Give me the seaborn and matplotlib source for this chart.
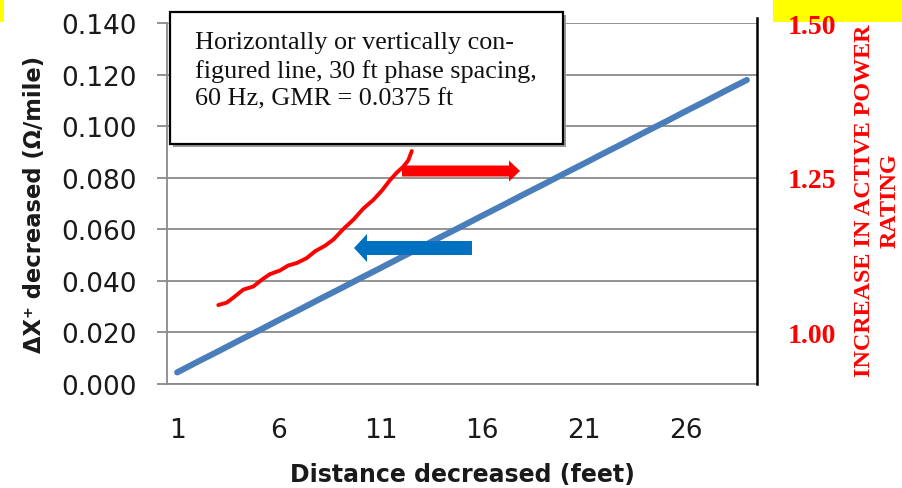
import matplotlib
matplotlib.use("Agg")
import matplotlib.pyplot as plt
from matplotlib.patches import FancyArrow, Rectangle
from matplotlib.transforms import Affine2D
import seaborn as sns

# blue series: delta X+ (ohm/mile) per foot of distance decreased
distance_ft = list(range(1, 30))
delta_x = [0.0045, 0.0086, 0.0126, 0.0167, 0.0207, 0.0248, 0.0288, 0.0329,
           0.0369, 0.0410, 0.0450, 0.0491, 0.0531, 0.0572, 0.0612, 0.0653,
           0.0693, 0.0734, 0.0774, 0.0815, 0.0855, 0.0896, 0.0936, 0.0977,
           0.1017, 0.1058, 0.1098, 0.1139, 0.1179]

# red series: increase in active power rating (right axis)
rating_x = [3.02, 3.44, 3.76, 4.25, 4.74, 5.16, 5.56, 6.06, 6.46, 6.88, 7.37, 7.78,
            8.27, 8.68, 9.17, 9.66, 10.15, 10.64, 11.06, 11.46, 11.79, 12.12, 12.36, 12.53]
rating_y = [1.044, 1.048, 1.056, 1.069, 1.074, 1.085, 1.094, 1.100, 1.108, 1.112,
            1.120, 1.131, 1.140, 1.150, 1.167, 1.182, 1.200, 1.214, 1.229, 1.246,
            1.258, 1.268, 1.278, 1.293]

y_ticks = [0.000, 0.020, 0.040, 0.060, 0.080, 0.100, 0.120, 0.140]
x_ticks = [1, 6, 11, 16, 21, 26]
right_ticks = [1.00, 1.25, 1.50]

note = ("Horizontally or vertically con-\n"
        "figured line, 30 ft phase spacing,\n"
        "60 Hz, GMR = 0.0375 ft")

sns.set_theme(style="white")
plt.rcParams["font.family"] = ["DejaVu Sans"]

W, H = 902, 489
fig = plt.figure(figsize=(W / 100, H / 100), dpi=100)
# pixel coords with origin top-left
px = Affine2D().scale(1 / W, -1 / H).translate(0, 1) + fig.transFigure

ax = fig.add_axes([167 / W, 1 - 385 / H, 590 / W, 361 / H])
grid_c = "#8a8a8a"

sns.lineplot(x=distance_ft, y=delta_x, ax=ax, color="#4A7EBB", linewidth=4.4,
             solid_capstyle="round", zorder=3)
ax.set_xlim(0.5, 29.5)
ax.set_ylim(0, 0.140)
ax.set_yticks(y_ticks, labels=[f"{v:.3f}" for v in y_ticks])
ax.set_xticks(x_ticks, labels=[str(v) for v in x_ticks])
ax.yaxis.grid(True, color=grid_c, linewidth=1.3)
ax.set_axisbelow(True)
for s in ["top", "right"]:
    ax.spines[s].set_visible(False)
for s in ["left", "bottom"]:
    ax.spines[s].set_color(grid_c)
    ax.spines[s].set_linewidth(1.3)
ax.tick_params(axis="y", left=True, length=7, width=1.3, color=grid_c, pad=15,
               labelsize=19, labelcolor="#1a1a1a")
ax.tick_params(axis="x", bottom=False, length=0, pad=24, labelsize=19, labelcolor="#1a1a1a")
ax.set_xlabel("Distance decreased (feet)", fontsize=17, fontweight="bold", color="#1a1a1a")
ax.xaxis.set_label_coords(0.5, -0.215)
ax.set_ylabel("ΔX⁺ decreased (Ω/mile)", fontsize=16.3, fontweight="bold", color="#1a1a1a")
ax.yaxis.set_label_coords(-0.205, 0.5)

# secondary axis
ax2 = ax.twinx()
sns.lineplot(x=rating_x, y=rating_y, ax=ax2, color="red", linewidth=2.8, sort=False)
ax2.set_ylim(0.9164, 1.4968)
ax2.set_yticks(right_ticks, labels=[f"{v:.2f}" for v in right_ticks],
               fontfamily="Liberation Serif", fontweight="bold", color="red", fontsize=20)
ax2.tick_params(axis="y", right=True, length=0, pad=22)
ax2.set_ylabel("")
ax2.grid(False)
for s in ["top", "left", "bottom"]:
    ax2.spines[s].set_visible(False)
ax2.spines["right"].set_color("black")
ax2.spines["right"].set_linewidth(1.8)
ax2.spines["right"].set_bounds(0.9164, 1.508)

fig.text(877 / W, 1 - 201 / H, "INCREASE IN ACTIVE POWER\nRATING", rotation=90,
         ha="center", va="center", multialignment="center", color="red",
         fontfamily="Liberation Serif", fontweight="bold", fontsize=17.4, linespacing=1.3)

# yellow highlight bits
fig.patches.append(Rectangle((773, 0), 129, 23, transform=px, facecolor="yellow",
                             edgecolor="none", zorder=-1))
fig.patches.append(Rectangle((0, 0), 4, 23, transform=px, facecolor="yellow",
                             edgecolor="none", zorder=-1))

# note box with a small shadow
fig.patches.append(Rectangle((173, 15.5), 393, 132, transform=px, facecolor="#9a9a9a",
                             edgecolor="none", zorder=4))
fig.patches.append(Rectangle((170, 12.7), 393, 132, transform=px, facecolor="white",
                             edgecolor="black", linewidth=1.6, zorder=5))
fig.text(195 / W, 1 - 71 / H, note, ha="left", va="center", fontfamily="Liberation Serif",
         fontsize=18.8, color="#111111", linespacing=1.34, zorder=6)

# direction arrows
fig.patches.append(FancyArrow(402, 172, 118, 0, width=11, head_width=21, head_length=11,
                              length_includes_head=True, transform=px, color="red",
                              linewidth=0, zorder=6))
fig.patches.append(FancyArrow(472, 249, -118, 0, width=14, head_width=28, head_length=13,
                              length_includes_head=True, transform=px, color="#0070C0",
                              linewidth=0, zorder=6))

fig.savefig("out.png", dpi=100)
